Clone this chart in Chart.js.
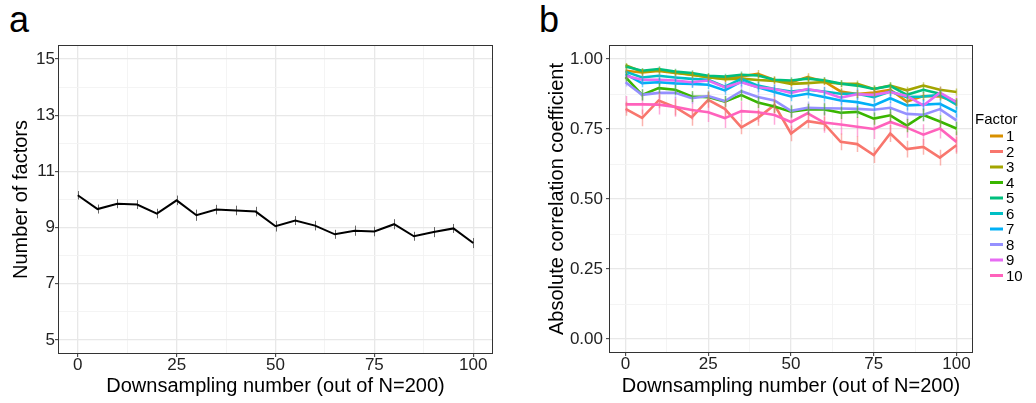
<!DOCTYPE html>
<html><head><meta charset="utf-8">
<script src="https://cdn.jsdelivr.net/npm/chart.js@4.4.1/dist/chart.umd.min.js"></script>
<style>
html,body{margin:0;padding:0;background:#fff;width:1036px;height:403px;overflow:hidden;font-family:'Liberation Sans',Arial,sans-serif;}
#wa{position:absolute;left:0;top:0;width:520px;height:403px;}
#wb{position:absolute;left:530px;top:0;width:506px;height:403px;}
.lab{position:absolute;font-size:36px;line-height:36px;color:#000;}
</style></head><body>
<div class="lab" style="left:9px;top:2px">a</div>
<div class="lab" style="left:539px;top:2px">b</div>
<div id="wa"><canvas id="ca" width="520" height="403"></canvas></div>
<div id="wb"><canvas id="cb" width="506" height="403"></canvas></div>
<script>
// ---------- data ----------
const downsampling = [0,5,10,15,20,25,30,35,40,45,50,55,60,65,70,75,80,85,90,95,100];
const nFactors    = [10.15,9.66,9.85,9.82,9.50,9.97,9.44,9.64,9.61,9.57,9.05,9.25,9.07,8.76,8.89,8.86,9.12,8.69,8.84,8.97,8.45];
const nFactorsErr = [0.15,0.16,0.16,0.16,0.17,0.17,0.20,0.17,0.17,0.17,0.19,0.16,0.17,0.16,0.18,0.17,0.18,0.16,0.18,0.16,0.18];

const aXTicks = [0,25,50,75,100];
const aYTicks = [5,7,9,11,13,15];
const bXTicks = [0,25,50,75,100];
const bYTicks = [0,0.25,0.5,0.75,1];
const bYTickLabels = ['0.00','0.25','0.50','0.75','1.00'];

const factorNames  = ['1','2','3','4','5','6','7','8','9','10'];
const factorColors = ['#D89000','#F8766D','#A3A500','#39B600','#00BF7D','#00BFC4','#00B0F6','#9590FF','#E76BF3','#FF62BC'];

const corrF1  = [0.958,0.952,0.957,0.950,0.944,0.935,0.930,0.938,0.947,0.925,0.917,0.935,0.920,0.884,0.875,0.880,0.890,0.848,0.868,0.866,0.846];
const corrF2  = [0.822,0.790,0.852,0.828,0.792,0.854,0.822,0.756,0.790,0.836,0.734,0.778,0.769,0.704,0.696,0.657,0.734,0.678,0.686,0.648,0.692];
const corrF3  = [0.978,0.955,0.960,0.952,0.944,0.935,0.928,0.930,0.925,0.922,0.911,0.914,0.918,0.912,0.911,0.893,0.905,0.888,0.905,0.890,0.882];
const corrF4  = [0.935,0.872,0.896,0.890,0.866,0.864,0.848,0.871,0.845,0.830,0.812,0.820,0.820,0.808,0.811,0.787,0.799,0.762,0.800,0.777,0.752];
const corrF5  = [0.973,0.958,0.964,0.955,0.950,0.940,0.937,0.944,0.941,0.926,0.923,0.930,0.924,0.912,0.905,0.893,0.904,0.872,0.890,0.876,0.846];
const corrF6  = [0.955,0.934,0.940,0.934,0.929,0.926,0.901,0.929,0.905,0.893,0.884,0.890,0.884,0.876,0.876,0.864,0.884,0.864,0.866,0.872,0.837];
const corrF7  = [0.946,0.914,0.917,0.913,0.911,0.908,0.888,0.919,0.899,0.882,0.866,0.876,0.864,0.852,0.846,0.834,0.860,0.834,0.837,0.840,0.810];
const corrF8  = [0.917,0.872,0.879,0.879,0.860,0.868,0.850,0.885,0.864,0.852,0.815,0.826,0.824,0.823,0.822,0.819,0.826,0.804,0.801,0.821,0.781];
const corrF9  = [0.940,0.926,0.926,0.923,0.917,0.923,0.899,0.917,0.899,0.893,0.879,0.893,0.882,0.862,0.874,0.872,0.882,0.868,0.834,0.880,0.846];
const corrF10 = [0.838,0.838,0.837,0.829,0.818,0.810,0.789,0.814,0.810,0.800,0.775,0.806,0.773,0.766,0.758,0.750,0.775,0.755,0.730,0.752,0.704];

const errF1  = [0.010,0.012,0.012,0.012,0.012,0.013,0.012,0.013,0.014,0.013,0.013,0.014,0.013,0.014,0.014,0.014,0.013,0.015,0.014,0.014,0.015];
const errF2  = [0.025,0.030,0.028,0.030,0.030,0.028,0.030,0.025,0.028,0.030,0.028,0.025,0.025,0.030,0.028,0.028,0.030,0.030,0.028,0.028,0.030];
const errF3  = [0.008,0.010,0.010,0.010,0.010,0.010,0.011,0.010,0.011,0.011,0.012,0.011,0.012,0.012,0.012,0.012,0.012,0.013,0.012,0.012,0.013];
const errF4  = [0.015,0.020,0.018,0.018,0.020,0.020,0.020,0.020,0.020,0.022,0.022,0.020,0.022,0.022,0.022,0.022,0.022,0.024,0.022,0.022,0.024];
const errF5  = [0.008,0.010,0.010,0.010,0.010,0.010,0.010,0.011,0.011,0.011,0.012,0.011,0.012,0.012,0.012,0.012,0.012,0.013,0.012,0.013,0.013];
const errF6  = [0.012,0.014,0.014,0.014,0.014,0.015,0.015,0.015,0.015,0.016,0.016,0.016,0.016,0.017,0.017,0.017,0.016,0.017,0.017,0.017,0.018];
const errF7  = [0.012,0.015,0.015,0.015,0.015,0.015,0.016,0.016,0.016,0.017,0.017,0.017,0.017,0.018,0.018,0.018,0.017,0.018,0.018,0.018,0.019];
const errF8  = [0.015,0.020,0.020,0.020,0.020,0.020,0.020,0.021,0.021,0.021,0.022,0.022,0.022,0.022,0.022,0.022,0.022,0.023,0.023,0.023,0.024];
const errF9  = [0.015,0.018,0.018,0.018,0.018,0.018,0.019,0.019,0.019,0.019,0.020,0.020,0.020,0.020,0.020,0.021,0.020,0.021,0.022,0.021,0.022];
const errF10 = [0.030,0.035,0.035,0.035,0.035,0.035,0.035,0.035,0.035,0.035,0.036,0.035,0.036,0.036,0.036,0.036,0.036,0.036,0.037,0.036,0.037];

const corrSeries = [corrF1,corrF2,corrF3,corrF4,corrF5,corrF6,corrF7,corrF8,corrF9,corrF10];
const errSeries  = [errF1,errF2,errF3,errF4,errF5,errF6,errF7,errF8,errF9,errF10];

// ---------- helpers ----------
const FONT = "'Liberation Sans', Arial, Helvetica, sans-serif";
function withMinor(major){
  const out = [];
  for (let i=0;i<major.length;i++){
    out.push({value:major[i], isMajor:true});
    if (i<major.length-1) out.push({value:(major[i]+major[i+1])/2, isMajor:false});
  }
  return out;
}
const gridOpts = {
  color: c => (c.tick && c.tick.isMajor) ? '#e8e8e8' : '#f3f3f3',
  lineWidth: c => (c.tick && c.tick.isMajor) ? 1.3 : 0.9,
  tickColor: c => (c.tick && c.tick.isMajor) ? '#333' : 'rgba(0,0,0,0)',
  tickWidth: 1,
  tickLength: 3,
  drawTicks: true
};

const framePlugin = {
  id:'frame',
  afterDatasetsDraw(chart){
    const {ctx, chartArea:a} = chart;
    ctx.save();
    ctx.strokeStyle = '#333';
    ctx.lineWidth = 1;
    ctx.strokeRect(Math.round(a.left)+0.5, Math.round(a.top)+0.5, Math.round(a.right-a.left)-1, Math.round(a.bottom-a.top)-1);
    ctx.restore();
  }
};

function drawErr(chart){
  const {ctx, scales:{x,y}} = chart;
  ctx.save();
  chart.data.datasets.slice().reverse().forEach(ds=>{
    ctx.strokeStyle = ds.errColor;
    ctx.globalAlpha = ds.errAlpha;
    ctx.lineWidth = ds.errWidth;
    ctx.beginPath();
    ds.data.forEach((p,i)=>{
      const px = Math.round(x.getPixelForValue(p.x))+0.5;
      ctx.moveTo(px, y.getPixelForValue(p.y - ds.err[i]));
      ctx.lineTo(px, y.getPixelForValue(p.y + ds.err[i]));
    });
    ctx.stroke();
  });
  ctx.restore();
}
const errBefore = { id:'errBefore', beforeDatasetsDraw(chart){ drawErr(chart); } };
const errAfter  = { id:'errAfter',  afterDatasetsDraw(chart){ drawErr(chart); } };

const legendPlugin = {
  id:'factorLegend',
  afterDraw(chart){
    const {ctx, chartArea:a} = chart;
    const x0 = a.right + 2;
    const titleY = 120;
    ctx.save();
    ctx.fillStyle = '#000';
    ctx.font = '15px ' + FONT;
    ctx.textBaseline = 'middle';
    ctx.textAlign = 'left';
    ctx.fillText('Factor', x0, titleY);
    factorNames.forEach((n,i)=>{
      const yy = 136 + i*15.5;
      ctx.strokeStyle = factorColors[i];
      ctx.lineWidth = 3;
      ctx.beginPath();
      ctx.moveTo(x0+15, yy); ctx.lineTo(x0+28, yy);
      ctx.stroke();
      ctx.fillStyle = '#000';
      ctx.fillText(n, x0+31, yy+1);
    });
    ctx.restore();
  }
};

function xScale(ticks, fitH){
  return {
    type:'linear', min:-5, max:105,
    afterBuildTicks: s => { s.ticks = withMinor(ticks); },
    afterFit: s => { s.height = fitH; },
    ticks:{ autoSkip:false, maxRotation:0, padding:0, color:'#222',
      font:{family:FONT,size:17,lineHeight:1},
      callback:(v,i,t)=> t[i].isMajor ? String(v) : '' },
    grid: gridOpts, border:{display:false},
    title:{display:true, text:'Downsampling number (out of N=200)', color:'#000',
      font:{family:FONT,size:20,lineHeight:1.2}, padding:{top:0,bottom:5}}
  };
}

// ---------- panel a ----------
new Chart(document.getElementById('ca'), {
  type:'line',
  data:{ datasets:[{
    data: downsampling.map((x,i)=>({x:x, y:nFactors[i]})),
    err: nFactorsErr, errColor:'#666', errAlpha:1, errWidth:1,
    borderColor:'#000', borderWidth:2, pointRadius:0, tension:0, fill:false
  }]},
  options:{
    responsive:false, animation:false, devicePixelRatio:1,
    layout:{ padding:{ top:45, right:27, left:0, bottom:0 } },
    plugins:{ legend:{display:false}, tooltip:{enabled:false} },
    scales:{
      x: xScale(aXTicks, 49),
      y: {
        type:'linear', min:4.5, max:15.5,
        afterBuildTicks: s => { s.ticks = withMinor(aYTicks); },
        afterFit: s => { s.width = 58; },
        ticks:{ autoSkip:false, padding:0, color:'#222', font:{family:FONT,size:17},
          callback:(v,i,t)=> t[i].isMajor ? String(v) : '' },
        grid: gridOpts, border:{display:false},
        title:{display:true, text:'Number of factors', color:'#000',
          font:{family:FONT,size:20,lineHeight:1.2}, padding:{top:9,bottom:0}}
      }
    }
  },
  plugins:[errBefore, framePlugin]
});

// ---------- panel b ----------
new Chart(document.getElementById('cb'), {
  type:'line',
  data:{ datasets: corrSeries.map((s,k)=>({
    label: factorNames[k],
    data: downsampling.map((x,i)=>({x:x, y:s[i]})),
    err: errSeries[k], errColor: factorColors[k], errAlpha:0.55, errWidth:1.5,
    borderColor: factorColors[k], borderWidth:2.6, pointRadius:0, tension:0, fill:false,
    order: 9-k
  }))},
  options:{
    responsive:false, animation:false, devicePixelRatio:1,
    layout:{ padding:{ top:45, right:63, left:0, bottom:0 } },
    plugins:{ legend:{display:false}, tooltip:{enabled:false} },
    scales:{
      x: xScale(bXTicks, 50),
      y: {
        type:'linear', min:-0.05, max:1.05,
        afterBuildTicks: s => { s.ticks = withMinor(bYTicks); },
        afterFit: s => { s.width = 79; },
        ticks:{ autoSkip:false, padding:3, color:'#222', font:{family:FONT,size:17},
          callback:(v,i,t)=> t[i].isMajor ? bYTickLabels[bYTicks.indexOf(v)] : '' },
        grid: gridOpts, border:{display:false},
        title:{display:true, text:'Absolute correlation coefficient', color:'#000',
          font:{family:FONT,size:20,lineHeight:1.2}, padding:{top:15,bottom:0}}
      }
    }
  },
  plugins:[errAfter, framePlugin, legendPlugin]
});
</script>
</body></html>
